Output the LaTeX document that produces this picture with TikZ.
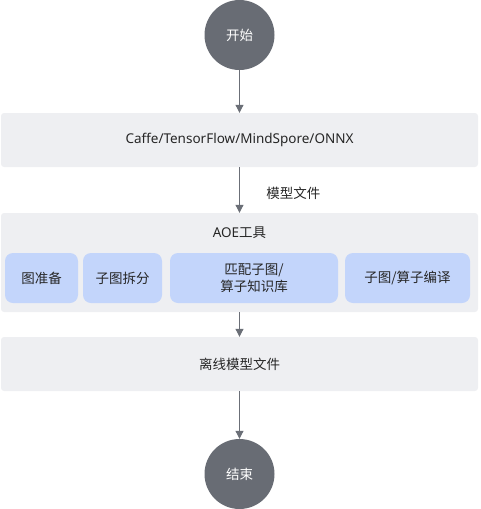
\documentclass[tikz,border=0pt]{standalone}
\usepackage{fontspec}
\setmainfont{Noto Sans}
\newfontfamily\cjk{Noto Sans CJK SC}
\usepackage{tikz}
\usetikzlibrary{arrows.meta, positioning}

\definecolor{termgray}{HTML}{686C74}
\definecolor{boxgray}{HTML}{EEEFF2}
\definecolor{subblue}{HTML}{C3D5FB}
\definecolor{linegray}{HTML}{6B6F77}
\definecolor{txtdark}{HTML}{262626}

\begin{document}
\begin{tikzpicture}[x=1pt, y=-1pt, font=\fontsize{13.5}{17}\selectfont]
    % 样式定义
    \tikzstyle{term} = [circle, fill=termgray, text=white, minimum size=70pt, inner sep=0pt, font=\cjk\fontsize{13.5}{17}\selectfont]
    \tikzstyle{stage} = [rectangle, fill=boxgray, text=txtdark, minimum width=477pt, minimum height=54pt, rounded corners=3pt, inner sep=0pt]
    \tikzstyle{sub} = [rectangle, fill=subblue, text=txtdark, minimum height=50pt, rounded corners=8pt, inner sep=0pt, align=center, font=\cjk\fontsize{13.5}{17}\selectfont]
    \tikzstyle{line} = [draw=linegray, line width=1pt, -{Triangle[length=8pt, width=8pt]}]

    \useasboundingbox (0,0) rectangle (480,509);

    % 配置
    \node [term] (start) at (239.5,35) {开始};
    \node [stage] (fw) at (239.5,140) {Caffe/TensorFlow/MindSpore/ONNX};
    \node [stage, minimum height=99pt] (aoe) at (239.5,262.5) {};
    \node [text=txtdark, inner sep=0pt] (aoetitle) at (239.5,233) {AOE{\cjk 工具}};
    \node [sub, minimum width=73pt] (prep) at (41.5,278) {图准备};
    \node [sub, minimum width=79pt] (split) at (122.5,278) {子图拆分};
    \node [sub, minimum width=168pt] (match) at (254,278) {匹配子图/\\算子知识库};
    \node [sub, minimum width=125pt] (compile) at (407.5,278) {子图/算子编译};
    \node [stage, font=\cjk\fontsize{13.5}{17}\selectfont] (om) at (239.5,364) {离线模型文件};
    \node [term] (end) at (239.5,474) {结束};

    % 箭头
    \path [line] (start) -- (fw);
    \path [line] (fw) -- node [right=23pt, yshift=-3pt, text=txtdark, font=\cjk\fontsize{13.5}{17}\selectfont] (mlabel) {模型文件} (aoe);
    \path [line] (aoe) -- (om);
    \path [line] (om) -- (end);
\end{tikzpicture}
\end{document}
